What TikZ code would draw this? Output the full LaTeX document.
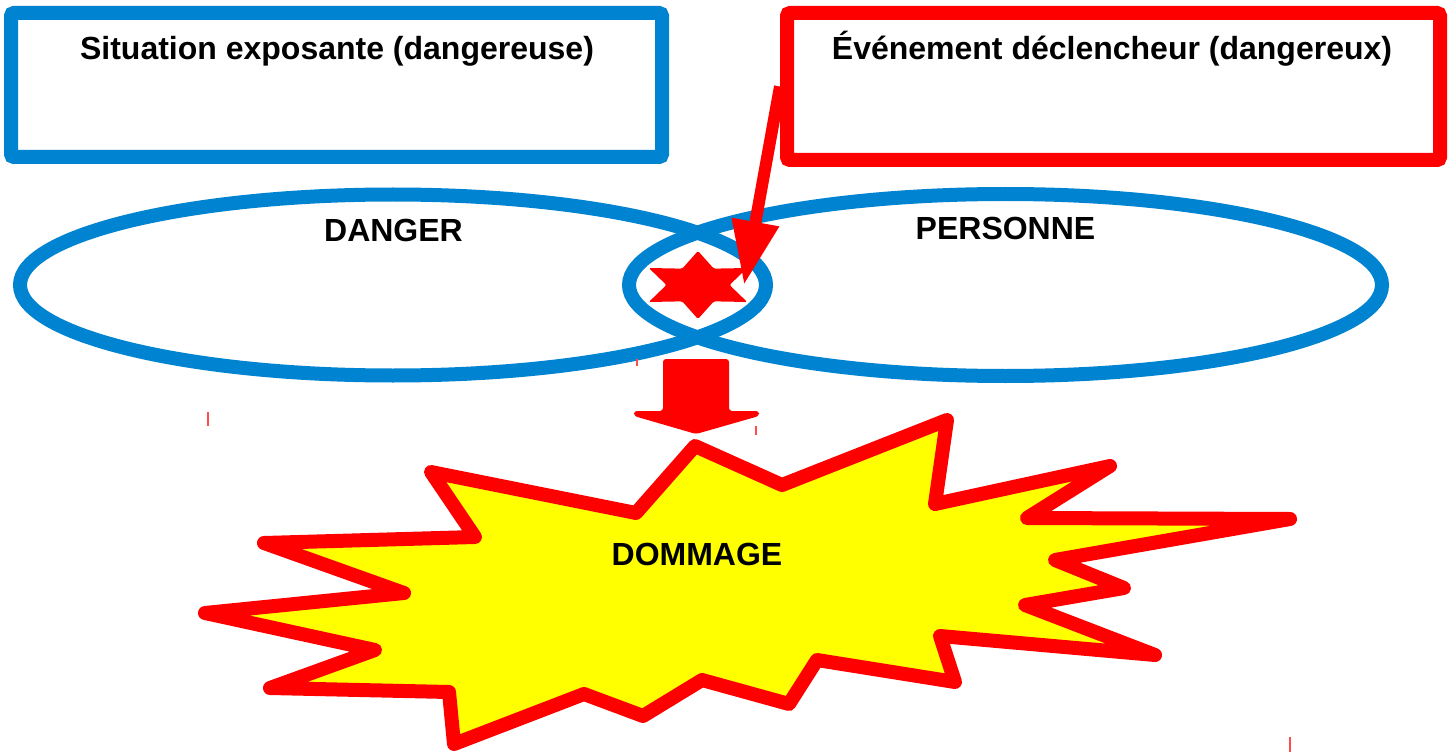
\documentclass[tikz,border=0pt]{standalone}
\usepackage{fontspec}
\setmainfont{Liberation Sans}
\usetikzlibrary{shapes.geometric,arrows.meta}
\newlength{\du}
\setlength{\du}{1pt}
\definecolor{dangerblue}{RGB}{0,132,209}
\definecolor{eventred}{RGB}{255,0,0}
\definecolor{damageyellow}{RGB}{255,255,0}
\tikzset{
  framebox/.style={draw, line width=14\du, rounded corners=3\du, inner sep=0pt},
  zone/.style={ellipse, draw=dangerblue, line width=14\du, inner sep=0pt},
  headtext/.style={anchor=base, inner sep=0pt, font=\bfseries\fontsize{32}{38}\selectfont},
  spark/.style={star, star points=6, star point ratio=1.8, fill=eventred, inner sep=0pt,
    minimum size=68\du, rounded corners=1.5\du, xscale=1.67, transform shape},
  trigger/.style={eventred, line width=12\du, -{Triangle[width=45pt,length=64pt]}},
  burst/.style={draw=eventred, fill=damageyellow, line width=14\du, line join=round},
  blockarrow/.style={fill=eventred, rounded corners=3\du},
  cursor/.style={eventred!70, line width=1.2\du}
}

\begin{document}
\begin{tikzpicture}
\pgftransformxscale{1.000000}
\pgftransformyscale{-1.000000}
\fill[white] (0\du,0\du) rectangle (1454\du,754\du);
\useasboundingbox (0\du,0\du) rectangle (1454\du,754\du);
% boxes
\node[framebox, draw=dangerblue, minimum width=651\du, minimum height=144\du] (expo) at (336.5\du,85\du) {};
\node[headtext] (expotitle) at (337\du,60\du) {Situation exposante (dangereuse)};
\node[framebox, draw=eventred, minimum width=653\du, minimum height=147\du] (evt) at (1113.5\du,86.5\du) {};
\node[headtext] (evttitle) at (1112\du,60\du) {Événement déclencheur (dangereux)};
% ellipses
\node[zone, minimum width=746\du, minimum height=181\du] (danger) at (393\du,285\du) {};
\node[headtext] (dangertitle) at (393.5\du,242\du) {DANGER};
\node[zone, minimum width=753\du, minimum height=182\du] (person) at (1005.5\du,285\du) {};
\node[headtext] (persontitle) at (1005.5\du,240\du) {PERSONNE};
\begin{scope}[shift={(698\du,285\du)}]
\node[spark] (star) at (0,0) {};
\end{scope}
\coordinate (hit) at (744\du,285\du);
\draw[trigger] (evt.west) -- (hit);
% down arrow
\fill[blockarrow] (663\du,359\du) -- (729\du,359\du) -- (729\du,411\du) -- (759\du,411\du) -- (759\du,416\du) -- (696\du,434\du) -- (634\du,416\du) -- (634\du,411\du) -- (663\du,411\du) -- cycle;
% burst
\filldraw[burst] (695\du,446\du) -- (782\du,485\du) -- (947\du,420\du) -- (935\du,504\du) -- (1110\du,466\du) -- (1027\du,518\du) -- (1290\du,519\du) -- (1055\du,560\du) -- (1124\du,588\du) -- (1025\du,605\du) -- (1155\du,655\du) -- (940\du,636\du) -- (955\du,682\du) -- (817\du,660\du) -- (789\du,704\du) -- (702\du,680\du) -- (643\du,716\du) -- (584\du,694\du) -- (454\du,744\du) -- (449\du,692\du) -- (270\du,688\du) -- (375\du,650\du) -- (205\du,613\du) -- (404\du,593\du) -- (264\du,543\du) -- (475\du,537\du) -- (431\du,472\du) -- (636\du,513\du) -- cycle;
\node[headtext] (damagetitle) at (697\du,565\du) {DOMMAGE};
% stray marks
\draw[cursor] (208\du,412\du) -- (208\du,426\du);
\draw[cursor] (637\du,359\du) -- (637\du,366\du);
\draw[cursor] (756\du,426\du) -- (756\du,435\du);
\draw[cursor] (1290\du,737\du) -- (1290\du,752\du);
\end{tikzpicture}
\end{document}
